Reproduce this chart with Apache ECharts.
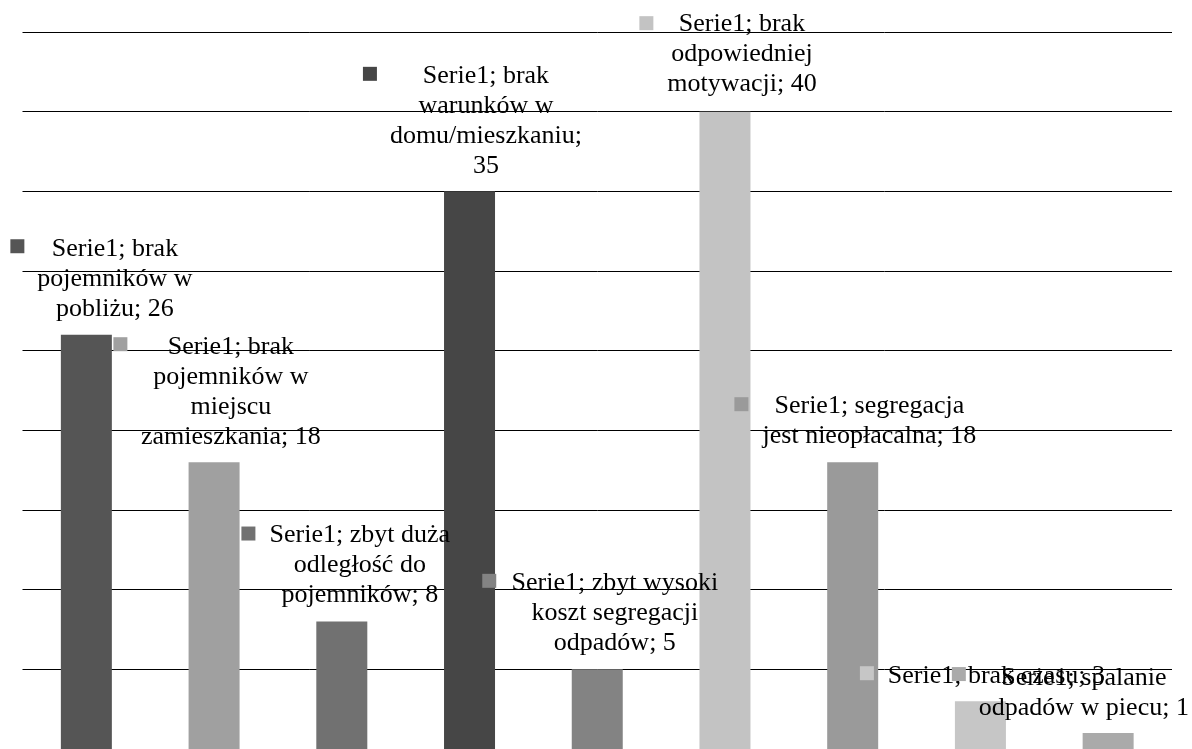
<!DOCTYPE html>
<html>
<head>
<meta charset="utf-8">
<script src="https://cdn.jsdelivr.net/npm/echarts@6/dist/echarts.min.js"></script>
<style>
html,body{margin:0;padding:0;background:#fff;}
#chart{width:1192px;height:749px;}
</style>
</head>
<body>
<div id="chart"></div>
<script>
// ---- data ----
const seriesName = 'Serie1';
const categories = [
  'brak pojemników w pobliżu',
  'brak pojemników w miejscu zamieszkania',
  'zbyt duża odległość do pojemników',
  'brak warunków w domu/mieszkaniu',
  'zbyt wysoki koszt segregacji odpadów',
  'brak odpowiedniej motywacji',
  'segregacja jest nieopłacalna',
  'brak czasu',
  'spalanie odpadów w piecu'
];
const values = [26, 18, 8, 35, 5, 40, 18, 3, 1];
// label text as wrapped in the picture ({s} = series name, {v} = value)
const labelTemplates = [
  '{s}; brak\npojemników w\npobliżu; {v}',
  '{s}; brak\npojemników w\nmiejscu\nzamieszkania; {v}',
  '{s}; zbyt duża\nodległość do\npojemników; {v}',
  '{s}; brak\nwarunków w\ndomu/mieszkaniu;\n{v}',
  '{s}; zbyt wysoki\nkoszt segregacji\nodpadów; {v}',
  '{s}; brak\nodpowiedniej\nmotywacji; {v}',
  '{s}; segregacja\njest nieopłacalna; {v}',
  '{s}; brak czasu; {v}',
  '{s}; spalanie\nodpadów w piecu; {v}'
];
const yTicks = [0, 5, 10, 15, 20, 25, 30, 35, 40, 45];

// ---- styles / layout ----
const barColors = ['#555555', '#a0a0a0', '#717171', '#464646', '#838383', '#c3c3c3', '#9a9a9a', '#c6c6c6', '#aaaaaa'];
const textOffsets = [[28.6, -11], [16.8, -10.5], [18, -11], [16.4, -10], [17.6, -11], [17, -12], [16.7, -11], [16, -10], [-24.3, -10]];
const keyOffsets = [[-69, -81.5], [-93.7, -111], [-93.4, -81], [-99.6, -110.5], [-108, -81.5], [-78.6, -81.5], [-111.3, -51], [-113.5, -21], [-149.3, -52]];
const FONT = "'Liberation Serif', 'Times New Roman', serif";

const barData = values.map((v, i) => ({
  value: v,
  itemStyle: { color: barColors[i] },
  label: {
    show: true,
    position: 'top',
    distance: 0,
    offset: textOffsets[i],
    formatter: labelTemplates[i].replace('{s}', seriesName).replace('{v}', String(v))
  }
}));
const keyData = values.map((v, i) => ({
  value: v,
  label: {
    show: true,
    position: 'top',
    distance: 0,
    offset: keyOffsets[i],
    formatter: '{k| }',
    rich: { k: { width: 14, height: 14, lineHeight: 14, fontSize: 1, backgroundColor: barColors[i] } }
  }
}));

const chart = echarts.init(document.getElementById('chart'), null, { renderer: 'canvas' });
chart.setOption({
  animation: false,
  backgroundColor: '#ffffff',
  grid: { left: 22.5, right: 20, top: 32, bottom: -3, containLabel: false },
  xAxis: {
    type: 'category',
    data: categories,
    axisLine: { show: false },
    axisTick: { show: false },
    axisLabel: { show: false },
    splitLine: { show: false }
  },
  yAxis: {
    type: 'value',
    min: yTicks[0],
    max: yTicks[yTicks.length - 1],
    interval: yTicks[1] - yTicks[0],
    axisLine: { show: false },
    axisTick: { show: false },
    axisLabel: { show: false },
    splitLine: { show: true, lineStyle: { color: '#000000', width: 1 } }
  },
  series: [
    {
      name: seriesName,
      type: 'bar',
      barWidth: 51,
      data: barData,
      z: 2,
      label: {
        fontFamily: FONT,
        fontSize: 26,
        lineHeight: 30,
        color: '#000000',
        align: 'center'
      }
    },
    {
      name: seriesName + '-keys',
      type: 'bar',
      barWidth: 51,
      barGap: '-100%',
      itemStyle: { color: 'rgba(0,0,0,0)' },
      data: keyData,
      z: 3,
      silent: true
    }
  ]
});
</script>
</body>
</html>
